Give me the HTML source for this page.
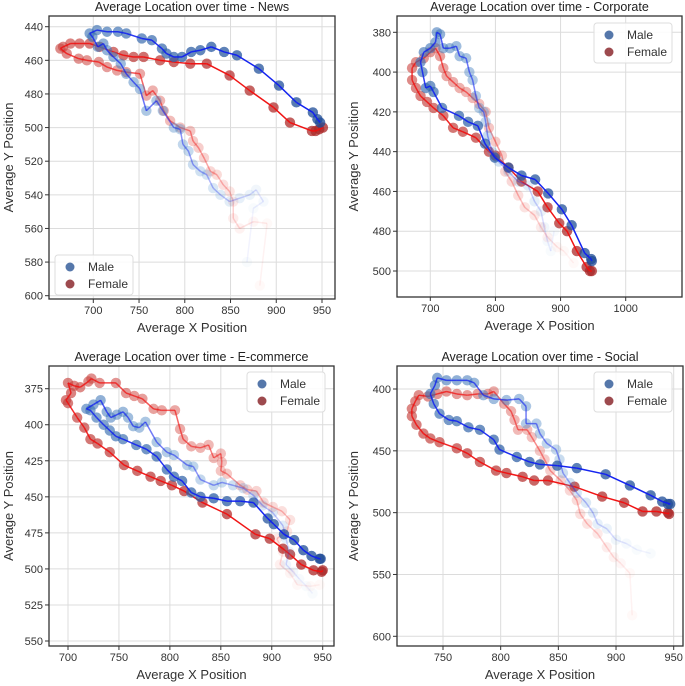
<!DOCTYPE html>
<html><head><meta charset="utf-8"><style>
html,body{margin:0;padding:0;background:#fff;}
svg{display:block;font-family:"Liberation Sans",Arial,sans-serif;}
</style></head><body>
<svg id="chart" width="685" height="686" viewBox="0 0 685 686" xmlns="http://www.w3.org/2000/svg"></svg>
<script>
// ---- data (average x / y positions over time) ----
const newsMaleX=[948,945,940,922,903,881,857,843,829,817,807,797,788,780,775,764,753,736,727,715,704,696,699,705,711,715,722,730,736,744,751,758,769,776,788,795,798,804,809,817,824,831,839,849,860,871,878,886,875,868];
const newsMaleY=[497,495,491,485,475,465,457,455,452,454,455,458,458,456,453,448,447,444,443,443,442,444,446,452,450,454,458,462,468,473,477,490,484,490,500,501,510,514,522,526,528,536,540,544,542,540,537,544,548,580];
const newsFemaleX=[951,947,943,939,915,897,871,849,824,806,788,773,755,744,733,722,707,696,685,675,667,664,671,684,693,706,715,726,736,751,758,765,773,777,784,795,806,809,815,821,828,835,842,849,853,853,860,875,890,882];
const newsFemaleY=[500,501,502,502,497,488,478,469,462,462,461,460,458,458,457,455,452,450,450,450,452,453,456,459,460,461,464,466,467,468,481,478,484,490,496,500,502,508,512,518,526,528,534,538,544,554,560,556,557,594];
const corpMaleX=[948,947,937,917,902,881,861,840,820,799,784,773,758,744,718,705,700,693,688,685,690,700,708,710,715,720,730,740,745,755,760,765,770,775,782,785,788,795,805,820,835,850,860,870,875,880,885,890];
const corpMaleY=[495,494,491,477,469,461,454,452,448,443,436,427,425,422,418,410,407,408,400,395,390,388,385,380,381,388,388,387,392,393,400,404,412,418,420,425,432,440,445,450,455,457,465,470,478,485,490,480];
const corpFemaleX=[948,945,940,925,910,898,880,865,840,820,800,790,770,750,735,720,705,695,685,678,672,672,678,690,700,708,715,720,725,735,745,755,765,775,785,790,800,810,815,825,835,845,860,870,880,895,905,920];
const corpFemaleY=[500,500,498,490,480,476,468,460,455,448,442,440,433,430,428,422,418,415,412,408,404,398,395,393,390,388,392,398,402,405,408,410,413,416,420,428,435,442,450,455,462,468,472,478,483,488,490,496];
const ecomMaleX=[948,947,939,931,922,912,902,896,882,869,856,843,830,821,812,804,797,787,777,767,754,747,741,735,728,722,718,725,732,738,742,748,754,759,764,770,776,787,797,804,817,823,830,843,851,862,872,882,891,901,911,914,917,914,921,927,934,940];
const ecomMaleY=[493,493,491,487,480,476,469,465,454,453,453,451,450,447,439,436,431,422,417,414,410,408,404,400,395,390,389,386,383,391,395,393,391,395,401,402,398,412,419,421,428,429,438,442,440,442,444,449,456,461,470,479,488,497,502,507,512,517];
const ecomFemaleX=[950,949,941,929,918,911,898,884,856,832,814,802,791,781,768,755,741,729,722,716,709,700,698,703,700,706,712,720,723,731,747,757,765,773,784,792,805,810,813,821,830,838,843,850,851,850,856,869,876,885,892,901,910,918,915,905,911,908,918,925,938,947];
const ecomFemaleY=[501,502,501,497,490,486,479,476,462,454,446,442,439,436,432,428,419,413,410,402,395,385,383,378,371,373,374,370,368,371,371,378,380,382,389,390,390,403,410,415,416,414,423,420,426,432,434,442,445,446,454,457,460,466,474,479,488,497,503,511,512,511];
const socMaleX=[945,947,940,930,912,891,866,849,834,825,814,799,794,782,772,762,755,747,742,739,743,745,753,762,771,777,785,794,805,816,822,822,831,834,840,848,851,854,860,866,874,880,884,892,900,909,918,930];
const socMaleY=[493,493,491,486,478,469,464,462,461,459,455,449,441,433,431,426,425,420,412,404,397,391,393,393,393,395,405,408,409,408,414,428,428,436,444,449,457,468,476,484,492,500,509,513,522,525,530,533];
const socFemaleX=[945,946,935,923,907,888,864,841,829,819,805,796,782,771,762,747,739,733,727,723,723,726,729,737,745,753,762,771,780,789,794,803,809,812,815,823,827,834,838,843,852,860,866,869,875,884,892,898,904,912,914];
const socFemaleY=[500,501,499,499,492,487,479,474,474,471,468,466,459,452,448,443,440,436,429,422,416,410,405,406,404,402,404,405,404,404,402,412,418,425,433,433,439,450,457,466,474,482,490,501,509,517,528,536,541,549,583];
// ---- ticks ----
const newsXTicks=[700,750,800,850,900,950], newsYTicks=[440,460,480,500,520,540,560,580,600];
const corpXTicks=[700,800,900,1000], corpYTicks=[380,400,420,440,460,480,500];
const ecomXTicks=[700,750,800,850,900,950], ecomYTicks=[375,400,425,450,475,500,525,550];
const socXTicks=[750,800,850,900,950], socYTicks=[400,450,500,550,600];

const NS="http://www.w3.org/2000/svg";
const svg=document.getElementById('chart');
function mk(tag,attrs,parent){const e=document.createElementNS(NS,tag);for(const k in attrs)e.setAttribute(k,attrs[k]);(parent||svg).appendChild(e);return e;}
function lin(d0,p0,d1,p1){return v=>p0+(v-d0)*(p1-p0)/(d1-d0);}

function panel(cfg){
  const g=mk('g',{});
  
  
  const sx=lin(cfg.xa[0],cfg.xa[1],cfg.xa[2],cfg.xa[3]);
  const sy=lin(cfg.ya[0],cfg.ya[1],cfg.ya[2],cfg.ya[3]);
  const [L,T,R,B]=cfg.frame;
  const clipId='clip-'+cfg.name;
  const cp=mk('clipPath',{id:clipId},g);mk('rect',{x:L,y:T,width:R-L,height:B-T},cp);
  cfg.xt.forEach(v=>{const x=sx(v);
    const gl=mk('line',{x1:x,x2:x,y1:T,y2:B,stroke:'#dcdcdc','stroke-width':1},g);
    
    mk('line',{x1:x,x2:x,y1:B,y2:B+4,stroke:'#333','stroke-width':1},g);
    const t=mk('text',{x:x,y:B+15,'text-anchor':'middle','font-size':11,fill:'#333'},g);t.textContent=v;
    });
  cfg.yt.forEach(v=>{const y=sy(v);
    const gl=mk('line',{x1:L,x2:R,y1:y,y2:y,stroke:'#dcdcdc','stroke-width':1},g);
    
    mk('line',{x1:L-4,x2:L,y1:y,y2:y,stroke:'#333','stroke-width':1},g);
    const t=mk('text',{x:L-6,y:y+4,'text-anchor':'end','font-size':11,fill:'#333'},g);t.textContent=v;
    });
  const plot=mk('g',{'clip-path':'url(#'+clipId+')'},g);
  function series(X,Y,c0,c1,lc,nm){
    const sg=mk('g',{},plot);
    
    
    const n=X.length;
    const al=i=>{const t=i/(n-1);return Math.max(0.05,0.9*(1-t*t));};
    for(let i=n-1;i>=0;i--){
      const t=i/(n-1);
      const col='rgb('+[0,1,2].map(k=>Math.round(c0[k]+(c1[k]-c0[k])*t)).join(',')+')';
      const c=mk('circle',{cx:sx(X[i]),cy:sy(Y[i]),r:5.2,fill:col,'fill-opacity':al(i)*0.85},sg);
      
    }
    for(let i=0;i<n-1;i++){
      const l=mk('line',{x1:sx(X[i]),y1:sy(Y[i]),x2:sx(X[i+1]),y2:sy(Y[i+1]),stroke:lc,'stroke-width':1.5,'stroke-opacity':Math.min(1,al(i)*1.1)},sg);
      
    }
  }
  series(cfg.fx,cfg.fy,[170,40,40],[245,110,100],'#f01010','female');
  series(cfg.mx,cfg.my,[30,75,150],[100,165,220],'#1020f0','male');
  const fr=mk('rect',{x:L,y:T,width:R-L,height:B-T,fill:'none',stroke:'#333','stroke-width':1.3},g);
  
  const cx=(L+R)/2;
  const ti=mk('text',{x:cx,y:T-5,'text-anchor':'middle','font-size':12.5,fill:'#222'},g);ti.textContent='Average Location over time - '+cfg.title;
  
  const xl=mk('text',{x:cx,y:B+33,'text-anchor':'middle','font-size':13,fill:'#333'},g);xl.textContent='Average X Position';
  
  const ym=(T+B)/2;
  const yl=mk('text',{x:cfg.ylx,y:ym,'text-anchor':'middle','font-size':13,fill:'#333',transform:'rotate(-90 '+cfg.ylx+' '+ym+')'},g);yl.textContent='Average Y Position';
  
  const [lx,ly]=cfg.leg;
  const lg=mk('g',{},g);
  
  mk('rect',{x:lx,y:ly,width:78,height:40,rx:3,fill:'#fff','fill-opacity':0.85,stroke:'#ddd'},lg);
  [['Male','#5577aa'],['Female','#9d4a4e']].forEach((e,i)=>{
    const c=mk('circle',{cx:lx+15,cy:ly+12+i*17,r:4.5,fill:e[1]},lg);
    
    const t=mk('text',{x:lx+33,y:ly+16+i*17,'font-size':12,fill:'#333'},lg);t.textContent=e[0];
    
  });
}

panel({name:'news',title:'News',frame:[49,16,335,299],xa:[700,93.3,950,322],ya:[440,26.7,600,295.7],xt:newsXTicks,yt:newsYTicks,mx:newsMaleX,my:newsMaleY,fx:newsFemaleX,fy:newsFemaleY,ylx:13,leg:[55,255]});
panel({name:'corporate',title:'Corporate',frame:[397,16,682,297],xa:[700,430.3,1000,625.7],ya:[380,32.3,500,271],xt:corpXTicks,yt:corpYTicks,mx:corpMaleX,my:corpMaleY,fx:corpFemaleX,fy:corpFemaleY,ylx:358,leg:[594,23]});
panel({name:'ecommerce',title:'E-commerce',frame:[49,366,334,646],xa:[700,68,950,322.7],ya:[375,388.7,550,641],xt:ecomXTicks,yt:ecomYTicks,mx:ecomMaleX,my:ecomMaleY,fx:ecomFemaleX,fy:ecomFemaleY,ylx:13,leg:[247,372]});
panel({name:'social',title:'Social',frame:[397,366,683,646],xa:[750,443,950,673.7],ya:[400,389,600,636.3],xt:socXTicks,yt:socYTicks,mx:socMaleX,my:socMaleY,fx:socFemaleX,fy:socFemaleY,ylx:358,leg:[594,372]});
</script>
</body></html>
